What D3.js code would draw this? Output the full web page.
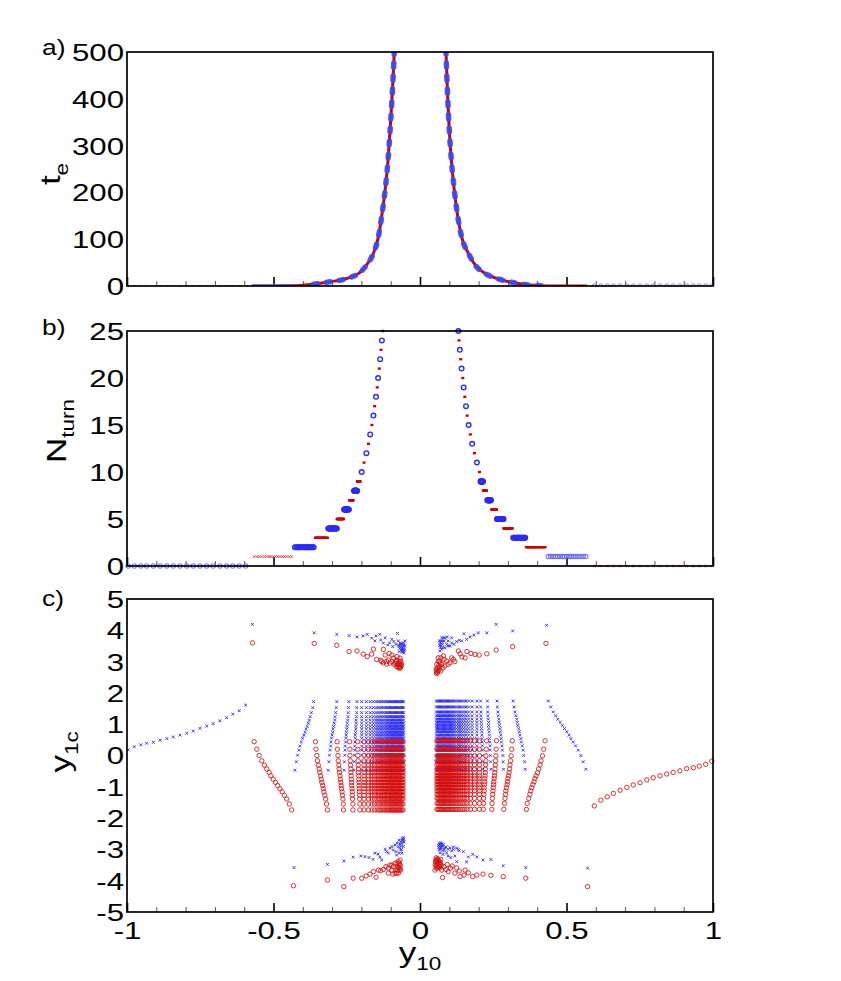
<!DOCTYPE html>
<html><head><meta charset="utf-8">
<script src="https://cdn.jsdelivr.net/npm/d3@7/dist/d3.min.js"></script>
<style>
body{margin:0;background:#fff;}
text{font-family:"Liberation Sans",Arial,Helvetica,sans-serif;fill:#000;}
</style></head><body>
<svg id="chart" width="841" height="981"></svg>
<script>
// ---------- tick values ----------
const xTicksMajor=[-1,-0.5,0,0.5,1];
const xTicksMinor=[-0.9,-0.8,-0.7,-0.6,-0.4,-0.3,-0.2,-0.1,0.1,0.2,0.3,0.4,0.6,0.7,0.8,0.9];
const aTicks=[0,100,200,300,400,500];
const bTicks=[0,5,10,15,20,25];
const cTicks=[-5,-4,-3,-2,-1,0,1,2,3,4,5];
const xLabelTicks=[-1,-0.5,0,0.5,1];

// ---------- panel a: escape time curves (y10, te) ----------
const teLeftCurve=[[-0.574,0],[-0.432,0.3],[-0.364,4],[-0.307,9],[-0.250,16],[-0.205,29],[-0.182,45],[-0.159,70],[-0.142,105],[-0.131,148],[-0.119,205],[-0.110,262],[-0.102,333],[-0.094,419],[-0.088,500],[-0.085,560]];
const teRightCurve=[[0.086,560],[0.0887,500],[0.0944,404],[0.100,333],[0.108,262],[0.117,205],[0.129,148],[0.142,105],[0.165,70],[0.188,45],[0.222,27],[0.273,14],[0.330,6],[0.375,2],[0.438,0],[0.570,0]];

// ---------- N = 0 level (single point per y10) ----------
const leftN0X=[-0.996,-0.975,-0.953,-0.933,-0.910,-0.887,-0.864,-0.842,-0.819,-0.796,-0.774,-0.751,-0.728,-0.706,-0.683,-0.660,-0.639,-0.617,-0.595];
const leftN0Y=[0.18,0.28,0.34,0.39,0.42,0.49,0.54,0.59,0.65,0.71,0.78,0.87,0.94,1.02,1.11,1.21,1.32,1.43,1.61];
const rightN0X=[0.595,0.617,0.639,0.660,0.683,0.706,0.728,0.751,0.774,0.796,0.819,0.842,0.864,0.887,0.910,0.933,0.953,0.975,0.996];
const rightN0Y=[-1.61,-1.43,-1.32,-1.21,-1.11,-1.02,-0.94,-0.87,-0.78,-0.71,-0.65,-0.59,-0.54,-0.49,-0.42,-0.39,-0.34,-0.28,-0.18];

// ---------- levels N = 1..9 : y10 of each point ----------
const leftLevelX=[
 [-0.566,-0.557,-0.549,-0.540,-0.531,-0.523,-0.515,-0.509,-0.501,-0.493,-0.486,-0.478,-0.470,-0.463,-0.455,-0.446,-0.438],
 [-0.427,-0.422,-0.418,-0.413,-0.410,-0.405,-0.401,-0.396,-0.392,-0.389,-0.385,-0.381,-0.378,-0.375,-0.371,-0.366,-0.363],
 [-0.357,-0.355,-0.352,-0.350,-0.347,-0.344,-0.342,-0.339,-0.337,-0.335,-0.332,-0.330,-0.328,-0.325,-0.322,-0.319,-0.316],
 [-0.313,-0.311,-0.309,-0.307,-0.305,-0.304,-0.302,-0.300,-0.298,-0.297,-0.295,-0.293,-0.291,-0.290,-0.288,-0.286,-0.284],
 [-0.283,-0.282,-0.280,-0.279,-0.277,-0.276,-0.275,-0.273,-0.272,-0.270,-0.269,-0.268,-0.266,-0.265,-0.263,-0.262,-0.261],
 [-0.259,-0.258,-0.257,-0.256,-0.255,-0.254,-0.253,-0.252,-0.251,-0.250,-0.249,-0.248,-0.247,-0.246,-0.245,-0.244,-0.243],
 [-0.240,-0.239,-0.239,-0.238,-0.237,-0.236,-0.236,-0.235,-0.234,-0.233,-0.233,-0.232,-0.231,-0.231,-0.230,-0.229,-0.229],
 [-0.225,-0.224,-0.224,-0.223,-0.223,-0.222,-0.221,-0.221,-0.220,-0.219,-0.219,-0.218,-0.218,-0.217,-0.216,-0.216,-0.215],
 [-0.213,-0.212,-0.212,-0.211,-0.211,-0.210,-0.210,-0.209,-0.209,-0.208,-0.208,-0.207,-0.207,-0.206,-0.206,-0.205,-0.205]
];
const rightLevelX=[
 [0.438,0.446,0.455,0.463,0.470,0.478,0.486,0.493,0.501,0.509,0.515,0.523,0.531,0.540,0.549,0.557,0.566],
 [0.363,0.366,0.371,0.375,0.378,0.381,0.385,0.389,0.392,0.396,0.401,0.405,0.410,0.413,0.418,0.422,0.427],
 [0.318,0.321,0.324,0.327,0.330,0.332,0.334,0.337,0.339,0.341,0.344,0.346,0.349,0.352,0.354,0.357,0.359],
 [0.286,0.288,0.290,0.292,0.293,0.295,0.297,0.299,0.300,0.302,0.304,0.306,0.307,0.309,0.311,0.313,0.315],
 [0.263,0.264,0.266,0.267,0.269,0.270,0.271,0.273,0.274,0.276,0.277,0.278,0.280,0.281,0.283,0.284,0.285],
 [0.245,0.246,0.247,0.248,0.249,0.250,0.251,0.252,0.253,0.254,0.255,0.256,0.257,0.258,0.259,0.260,0.261],
 [0.230,0.231,0.231,0.232,0.233,0.234,0.234,0.235,0.236,0.237,0.237,0.238,0.239,0.239,0.240,0.241,0.242],
 [0.216,0.217,0.217,0.218,0.219,0.219,0.220,0.221,0.221,0.222,0.223,0.223,0.224,0.225,0.225,0.226,0.227],
 [0.207,0.207,0.208,0.208,0.209,0.209,0.210,0.210,0.211,0.211,0.212,0.212,0.213,0.213,0.214,0.214,0.215]
];
// ---------- levels N >= 10 : one column position per level ----------
const leftHighX=[-0.199,-0.191,-0.183,-0.176,-0.170,-0.164,-0.159,-0.155,-0.150,-0.146,-0.143,-0.139,-0.136,-0.133,-0.130,-0.127,
 -0.124,-0.121,-0.118,-0.116,-0.113,-0.111,-0.109,-0.106,-0.104,-0.102,
 -0.100,-0.098,-0.096,-0.094,-0.092,-0.090,-0.088,-0.086,-0.084,-0.082,-0.080,-0.078,-0.076,-0.074,-0.072,-0.070,-0.068,-0.066,-0.064,-0.062,-0.060,-0.058,-0.056];
const rightHighX=[0.203,0.194,0.186,0.178,0.172,0.166,0.161,0.157,0.153,0.149,0.146,0.142,0.139,0.136,0.133,0.131,
 0.127,0.124,0.121,0.118,0.116,0.113,0.111,0.108,0.106,0.104,
 0.102,0.100,0.098,0.096,0.094,0.092,0.090,0.088,0.086,0.084,0.082,0.080,0.078,0.076,0.074,0.072,0.070,0.068,0.066,0.064,0.062,0.060,0.058,0.056];

// ---------- y1c values along a level column ----------
const blueYL=[-0.47,-0.20,0.01,0.17,0.30,0.43,0.55,0.65,0.74,0.84,0.93,1.03,1.13,1.24,1.37,1.53,1.72];
const redYL=[0.44,0.20,0.00,-0.17,-0.31,-0.43,-0.54,-0.65,-0.76,-0.86,-0.96,-1.06,-1.16,-1.27,-1.39,-1.55,-1.74];
const blueYR=[1.74,1.55,1.39,1.27,1.16,1.06,0.96,0.86,0.76,0.65,0.54,0.43,0.31,0.17,0.00,-0.20,-0.44];
const redYR=[-1.72,-1.53,-1.37,-1.24,-1.13,-1.03,-0.93,-0.84,-0.74,-0.65,-0.55,-0.43,-0.30,-0.17,-0.01,0.20,0.47];

// ---------- panel c clusters near |y1c| ~ 3-4 ----------
const topBlueL=[[-0.572,4.19],[-0.361,3.92],[-0.284,3.87],[-0.242,3.83],[-0.215,3.79],[-0.194,3.82],[-0.180,3.87],[-0.165,3.75],[-0.154,3.66],[-0.150,3.82],[-0.137,3.87],[-0.134,3.69],[-0.125,3.59],[-0.119,3.76],[-0.110,3.53],[-0.104,3.60],[-0.096,3.71],[-0.093,3.48],[-0.089,3.64],[-0.082,3.55],[-0.077,3.90],[-0.074,3.66],[-0.071,3.48],[-0.068,3.59],[-0.066,3.46],[-0.062,3.40],[-0.059,3.59],[-0.057,3.32],[-0.055,3.27],[-0.051,3.66],[-0.057,3.48],[-0.062,3.54],[-0.071,3.32],[-0.053,3.40],[-0.055,3.52],[-0.060,3.45],[-0.064,3.36],[-0.066,3.55],[-0.058,3.38],[-0.052,3.50],[-0.056,3.60],[-0.061,3.30],[-0.054,3.35],[-0.069,3.42],[-0.073,3.52]];
const topRedL=[[-0.572,3.60],[-0.361,3.58],[-0.284,3.52],[-0.242,3.32],[-0.215,3.34],[-0.194,3.24],[-0.180,3.16],[-0.165,3.24],[-0.159,3.40],[-0.148,3.07],[-0.134,3.04],[-0.125,3.39],[-0.119,3.21],[-0.114,3.00],[-0.108,3.05],[-0.105,3.26],[-0.096,3.21],[-0.091,3.11],[-0.085,2.95],[-0.080,3.05],[-0.078,3.16],[-0.074,2.90],[-0.071,3.00],[-0.068,3.11],[-0.066,2.84],[-0.071,2.79],[-0.080,2.84],[-0.089,2.92],[-0.096,3.00],[-0.102,2.95],[-0.114,2.92],[-0.125,2.96],[-0.131,3.00],[-0.068,2.90],[-0.064,2.95],[-0.066,3.02],[-0.070,2.86],[-0.075,2.82],[-0.063,2.88],[-0.072,2.95],[-0.078,2.90],[-0.067,2.80],[-0.082,3.00]];
const botBlueL=[[-0.430,-3.58],[-0.316,-3.48],[-0.260,-3.37],[-0.228,-3.25],[-0.202,-3.21],[-0.188,-3.23],[-0.174,-3.26],[-0.160,-3.32],[-0.154,-3.12],[-0.143,-3.15],[-0.137,-3.25],[-0.131,-3.34],[-0.119,-3.00],[-0.114,-3.07],[-0.108,-3.12],[-0.102,-2.96],[-0.096,-2.91],[-0.091,-3.02],[-0.085,-2.86],[-0.082,-3.07],[-0.080,-3.18],[-0.078,-2.80],[-0.074,-2.91],[-0.071,-2.70],[-0.068,-2.83],[-0.066,-3.02],[-0.062,-2.70],[-0.059,-2.65],[-0.057,-2.62],[-0.055,-2.76],[-0.057,-2.91],[-0.071,-3.12],[-0.062,-3.12],[-0.060,-2.80],[-0.064,-2.88],[-0.058,-2.72],[-0.066,-2.76],[-0.069,-2.95],[-0.063,-3.00],[-0.056,-2.68]];
const botRedL=[[-0.432,-4.16],[-0.316,-3.98],[-0.260,-4.19],[-0.228,-3.92],[-0.199,-3.92],[-0.184,-3.85],[-0.171,-3.79],[-0.159,-3.71],[-0.150,-3.89],[-0.142,-3.66],[-0.134,-3.68],[-0.125,-3.64],[-0.116,-3.55],[-0.108,-3.60],[-0.102,-3.50],[-0.096,-3.66],[-0.093,-3.79],[-0.091,-3.55],[-0.085,-3.44],[-0.082,-3.66],[-0.077,-3.55],[-0.074,-3.39],[-0.071,-3.50],[-0.068,-3.34],[-0.066,-3.66],[-0.080,-3.76],[-0.074,-3.76],[-0.085,-3.76],[-0.108,-3.76],[-0.096,-3.50],[-0.071,-3.66],[-0.070,-3.44],[-0.073,-3.58],[-0.067,-3.52],[-0.078,-3.45],[-0.069,-3.60],[-0.076,-3.66]];
const topBlueR=[[0.432,4.16],[0.316,3.98],[0.260,4.19],[0.228,3.92],[0.199,3.92],[0.184,3.85],[0.171,3.79],[0.159,3.71],[0.150,3.89],[0.142,3.66],[0.134,3.68],[0.125,3.64],[0.116,3.55],[0.108,3.60],[0.102,3.50],[0.096,3.66],[0.093,3.79],[0.091,3.55],[0.085,3.44],[0.082,3.66],[0.077,3.55],[0.074,3.39],[0.071,3.50],[0.068,3.34],[0.066,3.66],[0.080,3.76],[0.074,3.76],[0.085,3.76],[0.108,3.76],[0.096,3.50],[0.071,3.66],[0.070,3.44],[0.073,3.58],[0.067,3.52],[0.078,3.45],[0.069,3.60],[0.076,3.66]];
const topRedR=[[0.430,3.58],[0.316,3.48],[0.260,3.37],[0.228,3.25],[0.202,3.21],[0.188,3.23],[0.174,3.26],[0.160,3.32],[0.154,3.12],[0.143,3.15],[0.137,3.25],[0.131,3.34],[0.119,3.00],[0.114,3.07],[0.108,3.12],[0.102,2.96],[0.096,2.91],[0.091,3.02],[0.085,2.86],[0.082,3.07],[0.080,3.18],[0.078,2.80],[0.074,2.91],[0.071,2.70],[0.068,2.83],[0.066,3.02],[0.062,2.70],[0.059,2.65],[0.057,2.62],[0.055,2.76],[0.057,2.91],[0.071,3.12],[0.062,3.12],[0.060,2.80],[0.064,2.88],[0.058,2.72],[0.066,2.76],[0.069,2.95],[0.063,3.00],[0.056,2.68]];
const botBlueR=[[0.572,-3.60],[0.361,-3.58],[0.284,-3.52],[0.242,-3.32],[0.215,-3.34],[0.194,-3.24],[0.180,-3.16],[0.165,-3.24],[0.159,-3.40],[0.148,-3.07],[0.134,-3.04],[0.125,-3.39],[0.119,-3.21],[0.114,-3.00],[0.108,-3.05],[0.105,-3.26],[0.096,-3.21],[0.091,-3.11],[0.085,-2.95],[0.080,-3.05],[0.078,-3.16],[0.074,-2.90],[0.071,-3.00],[0.068,-3.11],[0.066,-2.84],[0.071,-2.79],[0.080,-2.84],[0.089,-2.92],[0.096,-3.00],[0.102,-2.95],[0.114,-2.92],[0.125,-2.96],[0.131,-3.00],[0.068,-2.90],[0.064,-2.95],[0.066,-3.02],[0.070,-2.86],[0.075,-2.82],[0.063,-2.88],[0.072,-2.95],[0.078,-2.90],[0.067,-2.80],[0.082,-3.00]];
const botRedR=[[0.572,-4.19],[0.361,-3.92],[0.284,-3.87],[0.242,-3.83],[0.215,-3.79],[0.194,-3.82],[0.180,-3.87],[0.165,-3.75],[0.154,-3.66],[0.150,-3.82],[0.137,-3.87],[0.134,-3.69],[0.125,-3.59],[0.119,-3.76],[0.110,-3.53],[0.104,-3.60],[0.096,-3.71],[0.093,-3.48],[0.089,-3.64],[0.082,-3.55],[0.077,-3.90],[0.074,-3.66],[0.071,-3.48],[0.068,-3.59],[0.066,-3.46],[0.062,-3.40],[0.059,-3.59],[0.057,-3.32],[0.055,-3.27],[0.051,-3.66],[0.057,-3.48],[0.062,-3.54],[0.071,-3.32],[0.053,-3.40],[0.055,-3.52],[0.060,-3.45],[0.064,-3.36],[0.066,-3.55],[0.058,-3.38],[0.052,-3.50],[0.056,-3.60],[0.061,-3.30],[0.054,-3.35],[0.069,-3.42],[0.073,-3.52]];

// ================= drawing =================
const svg=d3.select("#chart");
const X=d3.scaleLinear().domain([-1,1]).range([127,713]);
const Ya=d3.scaleLinear().domain([0,500]).range([286,52]);
const Yb=d3.scaleLinear().domain([0,25]).range([566,331]);
const Yc=d3.scaleLinear().domain([-5,5]).range([912,599]);
const BLUE="#2b2bff", RED="#d00000";
const FONT='"Liberation Sans",Arial,Helvetica,sans-serif';

function clip(Y,id){
  const [b,t]=Y.range();
  svg.append("clipPath").attr("id",id).append("rect").attr("x",127).attr("y",t).attr("width",586).attr("height",b-t);
}
function xTicks(Y){
  const b=Y.range()[0];
  svg.append("g").attr("transform",`translate(0,${b})`)
    .call(d3.axisBottom(X).tickValues(xTicksMinor).tickSize(-5).tickFormat(""))
    .call(g=>{g.select(".domain").remove();g.selectAll("line").attr("stroke","#555").attr("stroke-width",1);});
  svg.append("g").attr("transform",`translate(0,${b})`)
    .call(d3.axisBottom(X).tickValues(xTicksMajor).tickSize(-9).tickFormat(""))
    .call(g=>{g.select(".domain").remove();g.selectAll("line").attr("stroke","#000").attr("stroke-width",1.6);});
}
function frame(Y){
  const [b,t]=Y.range();
  svg.append("rect").attr("x",127).attr("y",t).attr("width",586).attr("height",b-t)
    .attr("fill","none").attr("stroke","#000").attr("stroke-width",1.7);
}
function yAxis(Y,vals){
  svg.append("g").attr("transform","translate(124,0)")
    .call(d3.axisLeft(Y).tickValues(vals).tickSize(0).tickFormat(d=>String(d)))
    .call(g=>{g.select(".domain").remove();g.attr("font-size",24).attr("font-family",FONT);
      g.selectAll("text").attr("x",0).attr("dy",null).attr("y",8.4).attr("text-anchor","end")
       .attr("transform","scale(1.3,1)").attr("fill","#000");});
}
function crosses(g,pts,Y,s,color,op,sw){
  g.append("path").attr("d",pts.map(([x,y])=>{const px=X(x),py=Y(y);
     return `M${px-s},${py-s}L${px+s},${py+s}M${px-s},${py+s}L${px+s},${py-s}`;}).join(""))
   .attr("fill","none").attr("stroke",color).attr("stroke-width",sw||1).attr("opacity",op);
}
function circles(g,pts,Y,r,color,sw,op){
  g.append("g").selectAll("circle").data(pts).join("circle")
   .attr("cx",d=>X(d[0])).attr("cy",d=>Y(d[1])).attr("r",r)
   .attr("fill","none").attr("stroke",color).attr("stroke-width",sw).attr("opacity",op);
}
function rects(g,pts,Y,w,h,color,op){
  g.append("g").selectAll("rect").data(pts).join("rect")
   .attr("x",d=>X(d[0])-w/2).attr("y",d=>Y(d[1])-h/2).attr("width",w).attr("height",h)
   .attr("fill",color).attr("opacity",op);
}
function title(x,y,rot,main,sub,size,subSize,dy){
  const t=svg.append("text").attr("transform",`translate(${x},${y}) rotate(${rot}) scale(1.25,1)`)
    .attr("text-anchor","middle").attr("font-size",size);
  t.append("tspan").text(main);
  t.append("tspan").attr("font-size",subSize).attr("dy",dy).text(sub);
}

// ---------- Panel a ----------
clip(Ya,"ca"); xTicks(Ya);
const ga=svg.append("g").attr("clip-path","url(#ca)");
const lineA=d3.line().x(d=>X(d[0])).y(d=>Ya(d[1])).curve(d3.curveMonotoneX);
rects(ga,leftN0X.map(x=>[x,0]),Ya,3,1.6,"#e03030",0.85);
circles(ga,rightN0X.map(x=>[x,0]),Ya,2.2,"#7070ff",1,0.8);
ga.append("path").datum(teLeftCurve).attr("d",lineA).attr("fill","none").attr("stroke",RED).attr("stroke-width",3);
ga.append("path").datum(teRightCurve).attr("d",lineA).attr("fill","none").attr("stroke",RED).attr("stroke-width",3);
ga.append("path").datum(teLeftCurve.slice(0,2)).attr("d",lineA).attr("fill","none").attr("stroke","#5a5aff").attr("stroke-width",3.2);
ga.append("path").datum(teLeftCurve.slice(2)).attr("d",lineA).attr("fill","none").attr("stroke","#3a4af5")
  .attr("stroke-width",5.5).attr("stroke-dasharray","4,9").attr("stroke-linecap","round").attr("opacity",0.9);
ga.append("path").datum(teRightCurve.slice(0,15)).attr("d",lineA).attr("fill","none").attr("stroke","#3a4af5")
  .attr("stroke-width",5.5).attr("stroke-dasharray","4,9").attr("stroke-linecap","round").attr("opacity",0.9);
frame(Ya); yAxis(Ya,aTicks);

// ---------- Panel b ----------
xTicks(Yb);
const gb=svg.append("g");
const bBlue=[],bRed=[],bBlueFaint=[],bRedFaint=[];
leftN0X.forEach(x=>bBlueFaint.push([x,0]));
rightN0X.forEach(x=>bRedFaint.push([x,0]));
leftLevelX.forEach((xs,k)=>{const n=k+1;const odd=n%2===1;
  xs.forEach(x=>(odd?(n===1?bRedFaint:bRed):bBlue).push([x,n]));});
rightLevelX.forEach((xs,k)=>{const n=k+1;const odd=n%2===1;
  xs.forEach(x=>(odd?(n===1?bBlueFaint:bBlue):bRed).push([x,n]));});
leftHighX.forEach((x,k)=>{const n=k+10;if(n>25)return;(n%2===1?bRed:bBlue).push([x,n]);});
rightHighX.forEach((x,k)=>{const n=k+10;if(n>25)return;(n%2===1?bBlue:bRed).push([x,n]);});
circles(gb,bBlueFaint,Yb,2.2,"#6262ff",1.1,0.85);
crosses(gb,bRedFaint,Yb,1.2,"#e02020",0.85,0.9);
circles(gb,bBlue,Yb,2.3,BLUE,1.4,1);
rects(gb,bRed,Yb,3,2.4,"#cc0000",1);
frame(Yb); yAxis(Yb,bTicks);

// ---------- Panel c ----------
xTicks(Yc);
const gc=svg.append("g");
const cBlue=[],cRed=[];
leftN0X.forEach((x,i)=>cBlue.push([x,leftN0Y[i]]));
rightN0X.forEach((x,i)=>cRed.push([x,rightN0Y[i]]));
leftLevelX.forEach((xs,k)=>{const odd=(k+1)%2===1;
  xs.forEach((x,i)=>(odd?cRed:cBlue).push([x,(odd?redYL:blueYL)[i]]));});
rightLevelX.forEach((xs,k)=>{const odd=(k+1)%2===1;
  xs.forEach((x,i)=>(odd?cBlue:cRed).push([x,(odd?blueYR:redYR)[i]]));});
leftHighX.forEach((x,k)=>{const odd=(k+10)%2===1;
  (odd?redYL:blueYL).forEach(y=>(odd?cRed:cBlue).push([x,y]));});
rightHighX.forEach((x,k)=>{const odd=(k+10)%2===1;
  (odd?blueYR:redYR).forEach(y=>(odd?cBlue:cRed).push([x,y]));});
[topBlueL,botBlueL,topBlueR,botBlueR].forEach(a=>a.forEach(p=>cBlue.push(p)));
[topRedL,botRedL,topRedR,botRedR].forEach(a=>a.forEach(p=>cRed.push(p)));
crosses(gc,cBlue,Yc,1.4,"#2828ff",1,0.9);
circles(gc,cRed,Yc,2.2,"#d41010",0.9,0.95);
frame(Yc); yAxis(Yc,cTicks);
svg.append("g").attr("transform","translate(0,912)")
  .call(d3.axisBottom(X).tickValues(xLabelTicks).tickSize(0).tickFormat(d=>String(d)))
  .call(g=>{g.select(".domain").remove();g.attr("font-size",24).attr("font-family",FONT);
    g.selectAll("text").attr("y",27).attr("dy",null).attr("transform","scale(1.3,1)")
     .attr("x",0).attr("fill","#000");});

// ---------- titles & panel labels ----------
title(60,174,-90,"t","e",28,18,8);
title(66,431,-90,"N","turn",28,18,8);
title(70,752,-90,"y","1c",28,18,8);
title(420,962,0,"y","10",28,18,8);
[["a)",55],["b)",335],["c)",606]].forEach(([s,y])=>{
  svg.append("text").attr("transform",`translate(42,${y}) scale(1.2,1)`).attr("font-size",22).text(s);
});
</script></body></html>
